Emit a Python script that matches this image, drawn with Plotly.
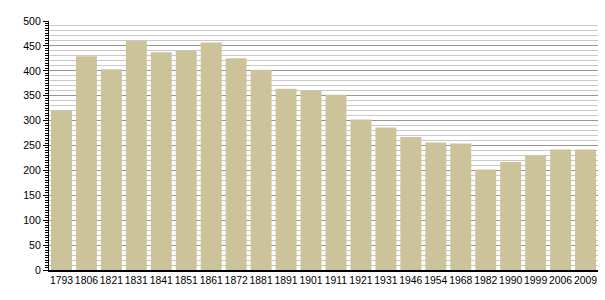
import plotly.graph_objects as go

years = ["1793", "1806", "1821", "1831", "1841", "1851", "1861", "1872", "1881", "1891", "1901",
         "1911", "1921", "1931", "1946", "1954", "1968", "1982", "1990", "1999", "2006", "2009"]
population = [320, 429, 403, 460, 437, 440, 457, 425, 402, 364, 360,
              352, 302, 286, 267, 256, 254, 202, 217, 229, 242, 242]

y_range = [0, 500]
minor_grid_vals = [v for v in range(0, 501, 10) if v % 50]

fig = go.Figure()
fig.add_trace(go.Bar(
    x=years, y=population,
    marker=dict(color="rgb(205,195,154)", line=dict(width=0)),
    hoverinfo="x+y",
))

# invisible trace to activate yaxis2 (carries the light 10-unit grid)
fig.add_trace(go.Scatter(x=[years[0]], y=[0], yaxis="y2", mode="markers",
                         marker=dict(opacity=0), hoverinfo="skip", showlegend=False))

fig.update_layout(
    width=605, height=300,
    margin=dict(l=49, r=7, t=21, b=30),
    paper_bgcolor="white", plot_bgcolor="white",
    bargap=0.16,
    showlegend=False,
    font=dict(family="Liberation Sans, Arial, sans-serif", color="black"),
    xaxis=dict(
        type="category",
        range=[-0.5, len(years) - 0.5],
        showline=True, linecolor="black", linewidth=1.5,
        ticks="", showgrid=False,
        tickangle=0,
        tickfont=dict(size=10.4),
        fixedrange=True,
    ),
    yaxis=dict(
        range=y_range, dtick=50,
        showline=True, linecolor="black", linewidth=1,
        ticks="outside", ticklen=5, tickcolor="black", tickwidth=1,
        showgrid=True, gridcolor="rgb(150,150,150)", gridwidth=1,
        tickfont=dict(size=10.6),
        zeroline=False,
        minor=dict(dtick=5, ticks="outside", ticklen=3, tickcolor="black", showgrid=False),
        fixedrange=True,
    ),
    yaxis2=dict(
        range=y_range, overlaying="y", side="left",
        tickvals=minor_grid_vals, showticklabels=False, ticks="",
        showgrid=True, gridcolor="rgb(200,200,200)", gridwidth=1,
        zeroline=False, showline=False,
        fixedrange=True,
    ),
)

fig.write_html("out.html")
